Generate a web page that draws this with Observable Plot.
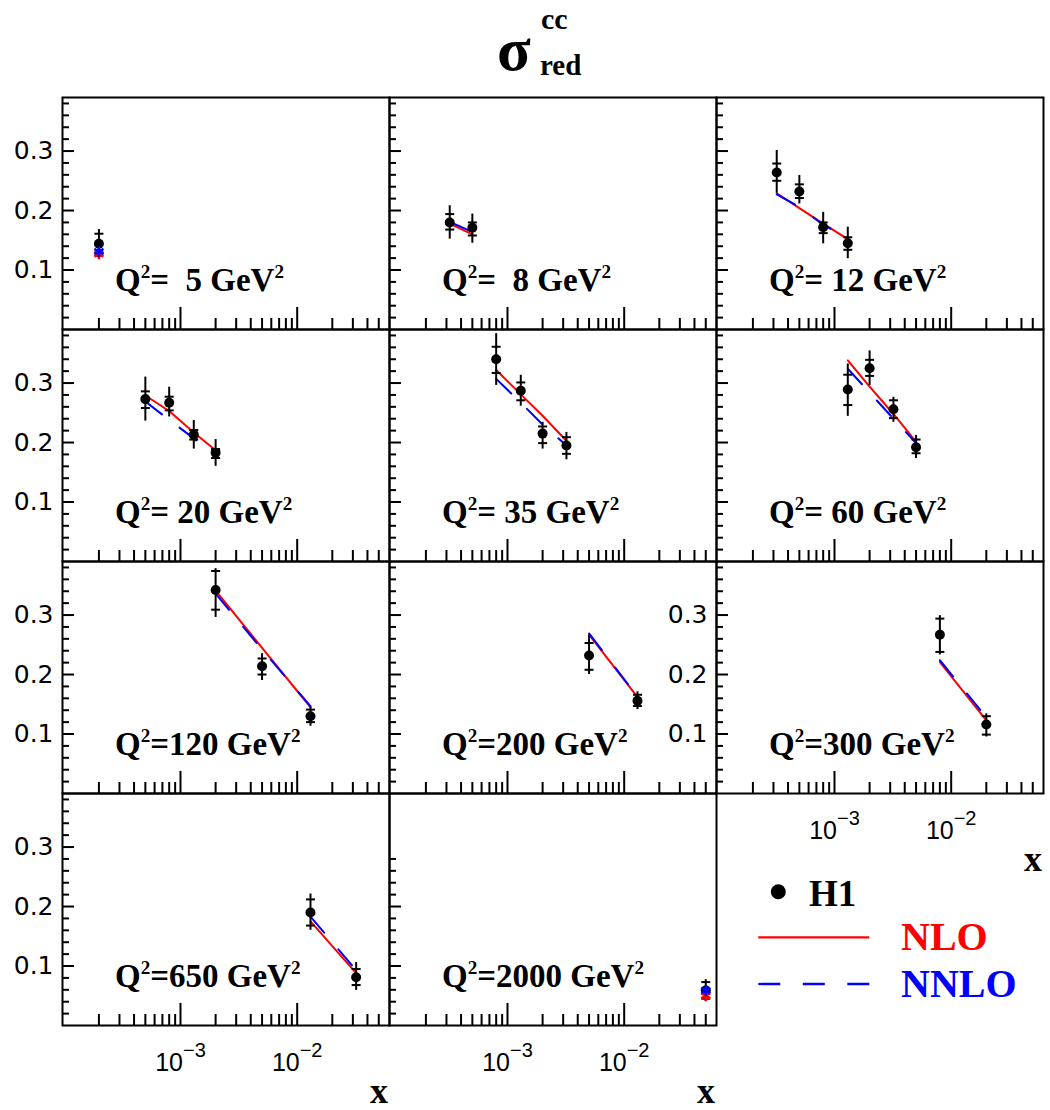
<!DOCTYPE html>
<html><head><meta charset="utf-8">
<script src="https://cdn.jsdelivr.net/npm/d3@7"></script>
<script src="https://cdn.jsdelivr.net/npm/@observablehq/plot@0.6"></script>
<style>
body{margin:0;background:#fff;}
#wrap{position:relative;width:1050px;height:1110px;overflow:hidden;background:#fff;}
.abs{position:absolute;}
.serif{font-family:"Liberation Serif","Times New Roman",serif;font-weight:bold;white-space:pre;line-height:1;}
.qlab{font-size:33px;color:#000;}
.sup{position:relative;top:-0.66em;font-size:0.58em;}
</style></head><body><div id="wrap"></div>
<script>
// ---- data ----
const panelQ2 = [5, 8, 12, 20, 35, 60, 120, 200, 300, 650, 2000];
const pointQ2 = [5, 8,8, 12,12,12,12, 20,20,20,20, 35,35,35,35, 60,60,60,60, 120,120,120, 200,200, 300,300, 650,650, 2000];
const pointX = [2e-4, 3.2e-4,5e-4, 3.2e-4,5e-4,8e-4,1.3e-3, 5e-4,8e-4,1.3e-3,2e-3, 8e-4,1.3e-3,2e-3,3.2e-3, 1.3e-3,2e-3,3.2e-3,5e-3, 2e-3,5e-3,1.3e-2, 5e-3,1.3e-2, 8e-3,2e-2, 1.3e-2,3.2e-2, 5e-2];
const sigmaRed = [0.144, 0.180,0.171, 0.264,0.232,0.172,0.145, 0.273,0.267,0.213,0.183, 0.340,0.287,0.215,0.195, 0.289,0.325,0.256,0.192, 0.342,0.214,0.130, 0.232,0.156, 0.267,0.116, 0.190,0.081, 0.059];
const statHi = [0.161, 0.194,0.180, 0.279,0.244,0.180,0.155, 0.286,0.277,0.221,0.189, 0.361,0.301,0.227,0.209, 0.314,0.339,0.271,0.205, 0.374,0.227,0.141, 0.253,0.166, 0.294,0.130, 0.212,0.095, 0.073];
const statLo = [0.128, 0.168,0.158, 0.250,0.221,0.162,0.134, 0.258,0.254,0.205,0.174, 0.317,0.271,0.199,0.181, 0.263,0.312,0.241,0.182, 0.309,0.200,0.120, 0.208,0.147, 0.238,0.099, 0.168,0.068, 0.045];
const totHi = [0.168, 0.208,0.194, 0.301,0.259,0.197,0.172, 0.310,0.293,0.237,0.205, 0.383,0.313,0.234,0.217, 0.332,0.354,0.276,0.212, 0.378,0.235,0.145, 0.266,0.171, 0.299,0.134, 0.221,0.106, 0.077];
const totLo = [0.120, 0.152,0.145, 0.229,0.211,0.144,0.119, 0.236,0.243,0.189,0.160, 0.296,0.261,0.189,0.171, 0.244,0.296,0.234,0.173, 0.296,0.190,0.113, 0.200,0.141, 0.233,0.095, 0.160,0.059, 0.040];
const nloTheory = [0.127, 0.178,0.160, 0.229,0.204,0.178,0.152, 0.279,0.253,0.217,0.187, 0.322,0.281,0.245,0.203, 0.338,0.294,0.248,0.201, 0.341,0.245,0.145, 0.267,0.162, 0.221,0.123, 0.175,0.088, 0.050];
const nnloTheory = [0.131, 0.181,0.164, 0.227,0.206,0.176,0.154, 0.269,0.238,0.207,0.175, 0.307,0.267,0.230,0.195, 0.324,0.284,0.240,0.199, 0.336,0.242,0.147, 0.269,0.163, 0.224,0.128, 0.183,0.093, 0.059];

const xMajorTicks = [1e-3, 1e-2];
const xMinorTicks = [2e-4,3e-4,4e-4,5e-4,6e-4,7e-4,8e-4,9e-4, 2e-3,3e-3,4e-3,5e-3,6e-3,7e-3,8e-3,9e-3, 2e-2,3e-2,4e-2,5e-2];
const xLabelTicks = [1e-3, 1e-2];
const yMajorTicks = [0.1, 0.2, 0.3];
const yMinorTicks = [0.02,0.04,0.06,0.08,0.12,0.14,0.16,0.18,0.22,0.24,0.26,0.28,0.32,0.34,0.36,0.38];
const yLabelTicks = [0.1, 0.2, 0.3];
const xDomain = [0.0000975, 0.0618];
const yDomain = [0, 0.39];

// ---- layout ----
const W = 327, H = 232;
const colX = [62, 389, 716];
const rowY = [97, 329, 561, 793];

const wrap = document.getElementById("wrap");
const data = pointX.map((x, i) => ({
  q2: pointQ2[i], x, sigma: sigmaRed[i], statHi: statHi[i], statLo: statLo[i],
  totHi: totHi[i], totLo: totLo[i], nlo: nloTheory[i], nnlo: nnloTheory[i]
}));

const hbar = {draw(ctx, size) { const r = Math.sqrt(size / Math.PI); ctx.moveTo(-r, 0); ctx.lineTo(r, 0); }};

panelQ2.forEach((q, i) => {
  const col = i % 3, row = Math.floor(i / 3);
  const rows = data.filter(d => d.q2 === q);
  const single = rows.length === 1;
  const showY = col === 0 || q === 300;
  const showX = q === 300 || q === 650 || q === 2000;
  const yMin = q === 2000 ? yMinorTicks.filter(v => v <= 0.285) : yMinorTicks;
  const yMaj = q === 2000 ? yMajorTicks.filter(v => v <= 0.285) : yMajorTicks;
  const marks = [
    Plot.tickX(xMinorTicks, {x: d => d, stroke: "black", strokeWidth: 2, insetTop: H - 11}),
    Plot.tickX(xMajorTicks, {x: d => d, stroke: "black", strokeWidth: 2, insetTop: H - 22}),
    Plot.tickY(yMin, {y: d => d, stroke: "black", strokeWidth: 2, insetRight: W - 7}),
    Plot.tickY(yMaj, {y: d => d, stroke: "black", strokeWidth: 2, insetRight: W - 12}),
  ];
  if (!single) {
    marks.push(Plot.line(rows, {x: "x", y: "nlo", stroke: "red", strokeWidth: 2}));
    marks.push(Plot.line(rows, {x: "x", y: "nnlo", stroke: "blue", strokeWidth: 2, strokeDasharray: "21,22"}));
  }
  marks.push(
    Plot.ruleX(rows, {x: "x", y1: "totLo", y2: "totHi", stroke: "black", strokeWidth: 2}),
    Plot.dot(rows, {x: "x", y: "statHi", symbol: hbar, r: 4.5, fill: "none", stroke: "black", strokeWidth: 2}),
    Plot.dot(rows, {x: "x", y: "statLo", symbol: hbar, r: 4.5, fill: "none", stroke: "black", strokeWidth: 2}),
    Plot.dot(rows, {x: "x", y: "sigma", r: 5, fill: "black", stroke: "none"})
  );
  if (single) {
    marks.push(Plot.dot(rows, {x: "x", y: "nlo", symbol: "asterisk", r: 5, stroke: "red", strokeWidth: 2.5}));
    marks.push(Plot.dot(rows, {x: "x", y: "nnlo", symbol: "asterisk", r: 5, stroke: "blue", strokeWidth: 2.5}));
  }
  marks.push(Plot.frame({stroke: "black", strokeWidth: 2}));
  if (showY) marks.push(Plot.axisY({ticks: yLabelTicks, anchor: "left", tickSize: 0, tickPadding: 9,
    tickFormat: d => d.toFixed(1), fontSize: 25, fontFamily: "DejaVu Sans", fill: "black", label: null}));
  if (showX) marks.push(Plot.axisX({ticks: xLabelTicks, anchor: "bottom", tickSize: 0, tickPadding: 28,
    tickFormat: d => String(Math.round(Math.log10(d))), fontSize: 25, fontFamily: "Liberation Sans", fill: "black", label: null}));

  const plot = Plot.plot({
    width: W, height: H, marginTop: 0, marginRight: 0, marginBottom: 0, marginLeft: 0,
    style: {overflow: "visible", background: "none", color: "black"},
    x: {type: "log", domain: xDomain, axis: showX ? undefined : null, label: null},
    y: {domain: yDomain, axis: showY ? undefined : null, label: null},
    marks
  });
  // power-of-ten tick labels
  d3.select(plot).selectAll('g[aria-label="x-axis tick label"] text').each(function() {
    const e = this.textContent.replace("-", "\u2212");
    const t = d3.select(this);
    t.text("10");
    t.append("tspan").attr("dy", -14).attr("font-size", 20).text(e);
  });
  const holder = document.createElement("div");
  holder.className = "abs";
  holder.style.left = colX[col] + "px";
  holder.style.top = rowY[row] + "px";
  holder.style.width = W + "px";
  holder.style.height = H + "px";
  holder.appendChild(plot);
  wrap.appendChild(holder);

  // Q^2 label
  const lab = document.createElement("div");
  lab.className = "abs serif qlab";
  lab.style.left = (colX[col] + 53) + "px";
  lab.style.top = (rowY[row] + 195 - 28) + "px";
  const n = String(q);
  const pad = n.length >= 3 ? "" : (n.length === 2 ? " " : "  ");
  lab.innerHTML = `Q<span class="sup">2</span>=${pad}${n} GeV<span class="sup">2</span>`;
  wrap.appendChild(lab);

  if (showX) {
    const xl = document.createElement("div");
    xl.className = "abs serif";
    xl.style.fontSize = "36px";
    xl.style.width = "40px";
    xl.style.textAlign = "right";
    xl.style.left = (colX[col] + W - 41) + "px";
    xl.style.top = (rowY[row] + H + 78 - 30) + "px";
    xl.textContent = "x";
    wrap.appendChild(xl);
  }
});

// title
const title = document.createElement("div");
title.className = "abs serif";
title.style.left = "0px"; title.style.top = "0px";
title.innerHTML = `<span class="abs" style="left:497px;top:18px;font-size:62px;">σ</span>
<span class="abs" style="left:541px;top:4px;font-size:30px;">cc</span>
<span class="abs" style="left:540px;top:51px;font-size:29px;">red</span>`;
wrap.appendChild(title);

// legend
const leg = document.createElement("div");
leg.className = "abs";
leg.style.left = "740px"; leg.style.top = "870px";
leg.innerHTML = `<svg width="300" height="150" style="position:absolute;left:0;top:0;overflow:visible">
<circle cx="38.3" cy="21.7" r="7.5" fill="black"/>
<line x1="18.3" x2="129.3" y1="67.3" y2="67.3" stroke="red" stroke-width="2.3"/>
<line x1="18.3" x2="130" y1="114" y2="114" stroke="blue" stroke-width="2.3" stroke-dasharray="22,22.5"/>
</svg>
<div class="abs serif" style="left:69px;top:5px;font-size:37px;">H1</div>
<div class="abs serif" style="left:161px;top:47px;font-size:40px;color:red;">NLO</div>
<div class="abs serif" style="left:161px;top:94px;font-size:40px;color:blue;">NNLO</div>`;
wrap.appendChild(leg);
</script></body></html>
